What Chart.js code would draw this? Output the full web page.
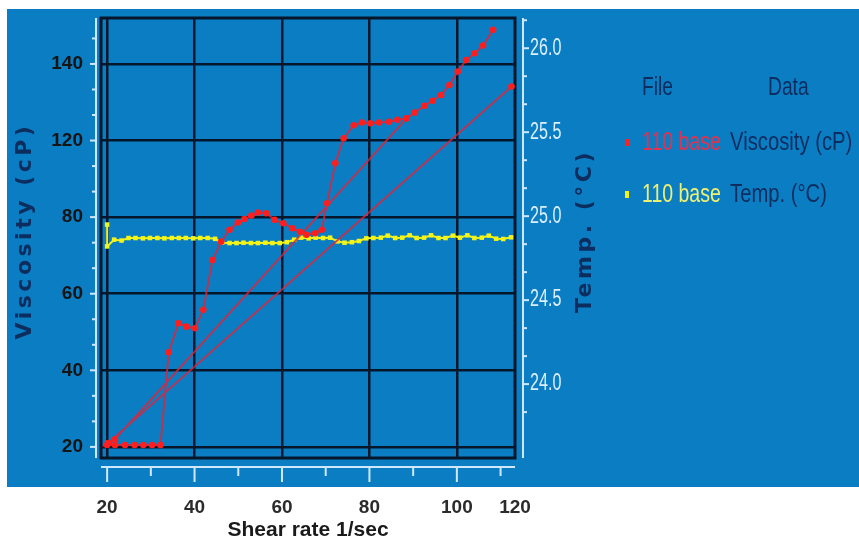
<!DOCTYPE html>
<html>
<head>
<meta charset="utf-8">
<script src="https://cdn.jsdelivr.net/npm/chart.js@4.4.1/dist/chart.umd.min.js"></script>
<style>
  html, body { margin: 0; padding: 0; background: #fff; }
  canvas { display: block; }
</style>
</head>
<body>
<canvas id="rheo" width="859" height="543"></canvas>
<script>
// shear rate (1/sec) and viscosity (cP) for file "110 base", in recorded order
const viscShear = [20, 21.8, 24.1, 26.3, 28.3, 30.3, 32.2, 34.1, 36.3, 38.1, 40.1, 42.0, 44.1, 46.1, 48.0, 49.9,
  51.4, 53.0, 54.5, 56.4, 58.3, 60.3, 62.4, 64.1, 65.6, 67.6, 69.1, 70.3, 72.2, 74.1, 76.4, 78.3, 80.2, 82.2,
  84.5, 86.4, 88.5, 90.4, 92.6, 94.5, 96.4, 98.3, 100.2, 102.1, 104.1, 106.0, 108.3, 110.0, 112.5, 20.2, 21.8, 88.5];
const viscValues = [20.5, 20.5, 20.5, 20.5, 20.5, 20.5, 20.5, 44.7, 52.3, 51.4, 51.0, 55.8, 68.8, 73.6, 76.7, 78.6,
  79.5, 80.4, 81.2, 81.0, 79.3, 78.4, 77.1, 76.2, 75.4, 75.8, 76.7, 83.6, 94.1, 100.6, 104.0, 104.7, 104.5, 104.7,
  104.9, 105.4, 105.8, 107.3, 109.1, 110.4, 111.9, 114.5, 118.0, 121.0, 122.8, 124.8, 128.9, null, 114.1, 21.0, 22.0, 105.8];

// shear rate (1/sec) and temperature (°C)
const tempShear = [20, 20, 21.6, 23.3, 24.9, 26.5, 28.2, 29.8, 31.5, 33.1, 34.8, 36.4, 38.0, 39.7, 41.3, 43.0,
  44.7, 46.3, 48.0, 49.6, 51.2, 52.9, 54.5, 56.2, 57.8, 59.5, 61.1, 62.8, 64.4, 66.1, 67.7, 69.4, 71.0, 72.7,
  74.3, 76.0, 77.6, 79.3, 80.9, 82.6, 84.2, 85.9, 87.5, 89.2, 90.8, 92.5, 94.1, 95.8, 97.4, 99.1, 100.7, 102.4,
  104.0, 105.7, 107.3, 109.0, 110.6, 112.4];
const tempValues = [24.95, 24.82, 24.86, 24.855, 24.87, 24.87, 24.868, 24.87, 24.87, 24.868, 24.87, 24.87, 24.87,
  24.868, 24.87, 24.87, 24.865, 24.842, 24.84, 24.84, 24.842, 24.84, 24.84, 24.842, 24.84, 24.84, 24.845, 24.86,
  24.872, 24.868, 24.872, 24.87, 24.872, 24.85, 24.842, 24.845, 24.852, 24.868, 24.87, 24.872, 24.884, 24.87,
  24.872, 24.886, 24.87, 24.872, 24.886, 24.87, 24.87, 24.884, 24.872, 24.886, 24.87, 24.872, 24.884, 24.866,
  24.864, 24.874];

// axis ticks and their printed labels
const shearTicks = [20, 40, 60, 80, 100, 113.3];
const shearTickLabels = ['20', '40', '60', '80', '100', '120'];
const viscTicks = [20, 40, 60, 80, 100, 120];
const viscTickLabels = ['20', '40', '60', '80', '120', '140'];
const tempTicks = [24.0, 24.5, 25.0, 25.5, 26.0];

const legendRows = [
  { file: '110 base', data: 'Viscosity (cP)', color: '#e8304c', mark: '#ff2020' },
  { file: '110 base', data: 'Temp. (°C)', color: '#f0f070', mark: '#f4f418' }
];

const NAVY = '#0c2d5e';
const PANEL = '#0b7ec3';
const GRID = '#06172c';
const AXIS = '#cfe8ff';

const viscData = viscShear.map((x, i) => ({ x: x, y: viscValues[i] }));
const tempData = tempShear.map((x, i) => ({ x: x, y: tempValues[i] }));

function fixTicks(list) {
  return scale => { scale.ticks = list.map(v => ({ value: v })); };
}

// fixed box size, no extra room for overhanging labels
function fixBox(width, height) {
  return s => {
    if (width) s.width = width;
    if (height) s.height = height;
    s.paddingTop = s.paddingBottom = s.paddingLeft = s.paddingRight = 0;
  };
}

// condensed text: squeeze horizontally around the anchor point
function narrowText(c, text, x, y, sx) {
  c.save();
  c.translate(x, y);
  c.scale(sx, 1);
  c.fillText(text, 0, 0);
  c.restore();
}

const decor = {
  id: 'decor',
  beforeDraw(chart) {
    const c = chart.ctx;
    c.save();
    c.fillStyle = '#fff';
    c.fillRect(0, 0, chart.width, chart.height);
    c.fillStyle = PANEL;
    c.fillRect(7, 9, chart.width - 7, 478);
    c.restore();
  },
  beforeDatasetsDraw(chart) {
    const { ctx: c, chartArea: a, scales } = chart;
    const seg = (x1, y1, x2, y2) => { c.beginPath(); c.moveTo(x1, y1); c.lineTo(x2, y2); c.stroke(); };
    c.save();
    c.strokeStyle = GRID;
    c.lineWidth = 3;
    c.strokeRect(a.left, a.top, a.right - a.left, a.bottom - a.top);

    // detached light axes with major / minor ticks
    const lx = a.left - 5, rx = a.right + 8, by = a.bottom + 9;
    c.strokeStyle = AXIS;
    c.lineWidth = 2;
    seg(lx, a.top, lx, a.bottom);
    seg(rx, a.top, rx, a.bottom);
    seg(a.left, by, a.right, by);

    const xs = scales.x;
    for (let v = 20; v <= 110; v += 10) {
      const px = xs.getPixelForValue(v);
      seg(px, by, px, by + (v % 20 === 0 ? 15 : 9));
    }
    const ys = scales.y;
    for (let v = 20 - 20 / 3; v <= ys.max; v += 20 / 3) {
      if (v < ys.min) continue;
      const py = ys.getPixelForValue(v);
      const major = viscTicks.some(t => Math.abs(t - v) < 0.01);
      seg(lx, py, lx - (major ? 6 : 4), py);
    }
    const ts = scales.yTemp;
    for (let v = 24.0 - 0.5 / 3; v <= ts.max; v += 0.5 / 3) {
      if (v < ts.min) continue;
      const py = ts.getPixelForValue(v);
      const major = tempTicks.some(t => Math.abs(t - v) < 0.001);
      seg(rx, py, rx + (major ? 6 : 4), py);
    }
    c.restore();
  },
  afterDraw(chart) {
    const c = chart.ctx;
    const a = chart.chartArea;
    c.save();

    // temperature tick labels in a condensed face
    const ts = chart.scales.yTemp;
    c.fillStyle = '#dcefff';
    c.font = "23px 'Liberation Sans'";
    c.textAlign = 'left';
    c.textBaseline = 'middle';
    tempTicks.forEach(v => narrowText(c, v.toFixed(1), a.right + 15, ts.getPixelForValue(v), 0.7));

    // vertical axis titles, both reading bottom to top
    c.fillStyle = NAVY;
    c.font = "bold 22px 'DejaVu Sans'";
    c.letterSpacing = '3.5px';
    c.textAlign = 'center';
    [[25, 'Viscosity (cP)'], [585, 'Temp. (°C)']].forEach(([x, text]) => {
      c.save();
      c.translate(x, 231);
      c.rotate(-Math.PI / 2);
      c.fillText(text, 0, 0);
      c.restore();
    });
    c.letterSpacing = '0px';

    // legend table
    c.textAlign = 'left';
    c.font = "26px 'Liberation Sans'";
    c.fillStyle = NAVY;
    narrowText(c, 'File', 642, 88, 0.74);
    narrowText(c, 'Data', 768, 88, 0.74);
    c.font = "25px 'Liberation Sans'";
    legendRows.forEach((row, i) => {
      const y = 143 + i * 52;
      c.fillStyle = row.mark;
      c.fillRect(625, y - 4, 4, 7);
      c.fillStyle = row.color;
      narrowText(c, row.file, 642, y, 0.78);
      c.fillStyle = NAVY;
      narrowText(c, row.data, 730, y, 0.81);
    });
    c.restore();
  }
};

new Chart(document.getElementById('rheo'), {
  type: 'line',
  data: {
    datasets: [
      {
        label: 'Viscosity (cP)',
        data: viscData,
        yAxisID: 'y',
        borderColor: 'rgba(222, 36, 56, 0.8)',
        borderWidth: 2,
        pointStyle: 'circle',
        pointRadius: 3.3,
        pointBackgroundColor: '#ff1e1e',
        pointBorderWidth: 0,
        spanGaps: false,
        tension: 0
      },
      {
        label: 'Temp. (°C)',
        data: tempData,
        yAxisID: 'yTemp',
        borderColor: '#f2f21c',
        borderWidth: 2,
        pointStyle: 'rect',
        pointRadius: 3.2,
        pointBackgroundColor: '#f4f418',
        pointBorderWidth: 0,
        tension: 0
      }
    ]
  },
  options: {
    responsive: false,
    animation: false,
    layout: { padding: { top: 18, left: 0, right: 0, bottom: 0 } },
    plugins: {
      legend: { display: false },
      tooltip: { enabled: false }
    },
    scales: {
      x: {
        type: 'linear',
        min: 18.6,
        max: 113.3,
        afterBuildTicks: fixTicks(shearTicks),
        afterFit: fixBox(0, 85),
        border: { display: false },
        grid: {
          color: ctx => ctx.tick && ctx.tick.value > 110 ? 'rgba(0,0,0,0)' : GRID,
          lineWidth: 2.5,
          drawTicks: false
        },
        ticks: {
          autoSkip: false,
          maxRotation: 0,
          padding: 38,
          color: '#2b2b2b',
          font: { family: 'Liberation Sans', size: 19, weight: 'bold' },
          callback: (v, i) => shearTickLabels[i]
        },
        title: {
          display: true,
          text: 'Shear rate 1/sec',
          color: '#1a1a1a',
          font: { family: 'Liberation Sans', size: 21, weight: 'bold' },
          padding: { top: 0, bottom: 0 }
        }
      },
      y: {
        type: 'linear',
        position: 'left',
        min: 17.1,
        max: 132.0,
        afterBuildTicks: fixTicks(viscTicks),
        afterFit: fixBox(101, 0),
        border: { display: false },
        grid: { color: GRID, lineWidth: 2.5, drawTicks: false },
        ticks: {
          padding: 18,
          color: '#141414',
          font: { family: 'Liberation Sans', size: 19, weight: 'bold' },
          callback: (v, i) => viscTickLabels[i]
        }
      },
      yTemp: {
        type: 'linear',
        position: 'right',
        min: 23.56,
        max: 26.18,
        afterBuildTicks: fixTicks(tempTicks),
        afterFit: fixBox(344, 0),
        border: { display: false },
        grid: { display: false, drawTicks: false },
        ticks: { display: false }
      }
    }
  },
  plugins: [decor]
});
</script>
</body>
</html>
